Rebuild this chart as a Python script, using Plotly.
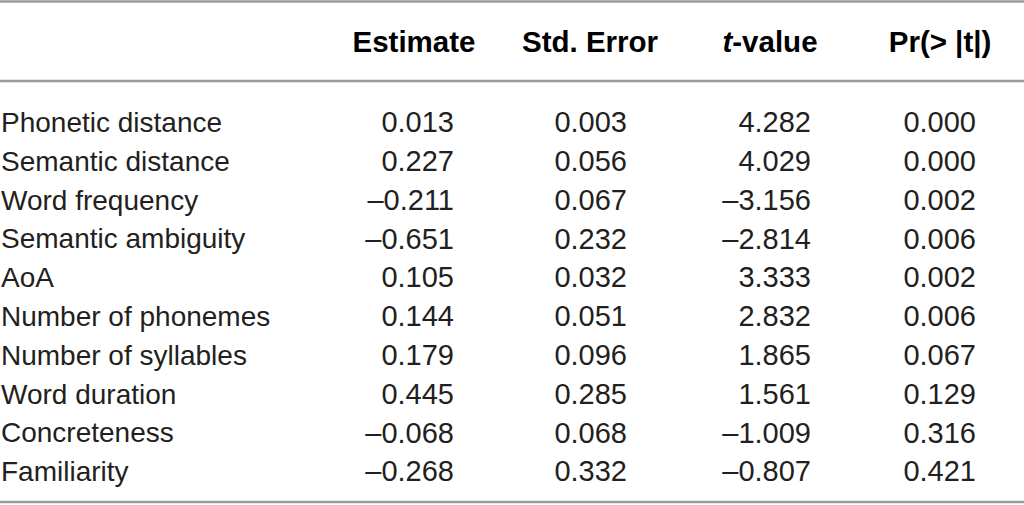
import plotly.graph_objects as go

headers = ["<b>Estimate</b>", "<b>Std. Error</b>", "<b><i>t</i>-value</b>", "<b>Pr(> |t|)</b>"]
labels = ["Phonetic distance", "Semantic distance", "Word frequency", "Semantic ambiguity",
          "AoA", "Number of phonemes", "Number of syllables", "Word duration",
          "Concreteness", "Familiarity"]
estimate = ["0.013", "0.227", "–0.211", "–0.651", "0.105", "0.144", "0.179", "0.445", "–0.068", "–0.268"]
std_error = ["0.003", "0.056", "0.067", "0.232", "0.032", "0.051", "0.096", "0.285", "0.068", "0.332"]
t_value = ["4.282", "4.029", "–3.156", "–2.814", "3.333", "2.832", "1.865", "1.561", "–1.009", "–0.807"]
p_value = ["0.000", "0.000", "0.002", "0.006", "0.002", "0.006", "0.067", "0.129", "0.316", "0.421"]

W, H = 1024, 505
FONT = "Liberation Sans"
SIZE = 28
NSIZE = 29
HSIZE = 29.5
COLOR = "#231f20"

row_y0 = 125
row_step = 38.8
header_y = 45
col_right = [454, 627, 811, 976]
col_center = [414, 590, 770, 940]
label_x = 1

rows_y = [row_y0 + i * row_step for i in range(len(labels))]

fig = go.Figure()

# labels
fig.add_trace(go.Scatter(
    x=[label_x] * len(labels), y=rows_y, text=labels, mode="text",
    textposition="middle right", textfont=dict(family=FONT, size=SIZE, color=COLOR),
    hoverinfo="skip", showlegend=False))

# value columns
for col, xr in zip([estimate, std_error, t_value, p_value], col_right):
    fig.add_trace(go.Scatter(
        x=[xr] * len(col), y=rows_y, text=col, mode="text",
        textposition="middle left", textfont=dict(family=FONT, size=NSIZE, color=COLOR),
        hoverinfo="skip", showlegend=False))

# headers
fig.add_trace(go.Scatter(
    x=col_center, y=[header_y] * len(headers), text=headers, mode="text",
    textposition="middle center", textfont=dict(family=FONT, size=HSIZE, color="#000000"),
    hoverinfo="skip", showlegend=False))

line_style = dict(color="#9a9a9a", width=2.5)
for yl in [1.5, 81, 502]:
    fig.add_shape(type="line", x0=0, x1=W, y0=yl, y1=yl, xref="x", yref="y", line=line_style)

fig.update_layout(
    width=W, height=H,
    margin=dict(l=0, r=0, t=0, b=0),
    paper_bgcolor="white", plot_bgcolor="white",
    xaxis=dict(range=[0, W], visible=False, fixedrange=True),
    yaxis=dict(range=[H, 0], visible=False, fixedrange=True),
)

fig.write_html("out.html", config={"displayModeBar": False},
               post_script="document.body.style.margin='0';document.body.style.overflow='hidden';")
